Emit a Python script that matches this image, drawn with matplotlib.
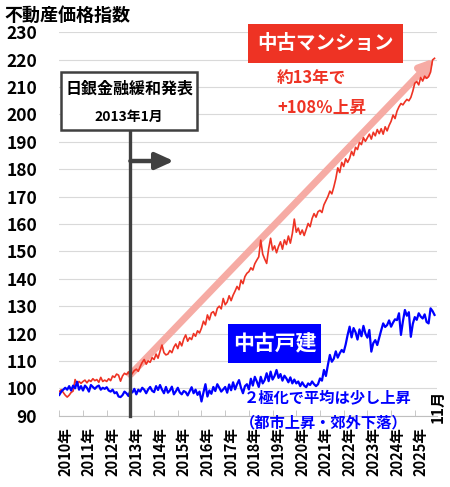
import numpy as np
import matplotlib.pyplot as plt
from matplotlib.patches import Rectangle

plt.rcParams['font.family'] = ['Noto Sans CJK JP', 'DejaVu Sans']

# ---------------- データ (2010年1月～2025年11月, 月次) ----------------
mansion = [
    98.8, 99.5, 98.5, 97.5, 96.8, 97.5, 98.5, 99.0, 103.2, 101.5, 102.5, 101.8,      # 2010
    102.5, 103.0, 102.0, 103.0, 102.5, 103.5, 102.8, 103.2, 102.2, 104.0, 102.5, 103.0,  # 2011
    102.5, 103.5, 102.8, 104.5, 104.0, 105.2, 104.8, 102.6, 104.5, 105.5, 105.0, 106.0,  # 2012
    104.5, 105.5, 106.5, 107.0, 106.2, 108.0, 109.5, 110.5, 108.8, 110.0, 109.5, 111.2,  # 2013
    110.5, 112.5, 111.0, 113.5, 115.8, 113.0, 112.2, 112.5, 113.8, 113.0, 115.0, 116.2,  # 2014
    114.5, 117.0, 115.5, 118.0, 119.5, 117.2, 118.5, 117.8, 120.0, 119.0, 121.0, 120.2,  # 2015
    122.0, 124.5, 123.2, 126.8, 125.0, 127.5, 128.0, 126.5, 129.2, 130.0, 129.0, 132.8,  # 2016
    130.5, 131.5, 133.8, 132.0, 134.0, 135.5, 137.2, 136.0, 139.5, 138.2, 140.8, 142.0,  # 2017
    142.6, 144.0, 143.2, 145.5, 146.8, 148.0, 154.1, 149.0, 147.2, 145.6, 151.0, 154.8,  # 2018
    150.5, 152.0, 149.5, 151.8, 153.5, 150.8, 154.2, 152.5, 155.6, 153.0, 156.5, 161.8,  # 2019
    157.0, 158.5, 156.2, 157.8, 155.8, 158.0, 160.2, 159.0, 162.0, 163.8, 162.5, 164.5,  # 2020
    165.0, 164.2, 167.0, 168.5, 170.0, 172.0, 171.0, 173.5, 176.5, 180.5, 178.8, 182.5,  # 2021
    181.0, 183.8, 182.5, 184.0, 186.5, 185.0, 188.0, 187.2, 189.8, 189.0, 191.5, 190.2,  # 2022
    191.5, 192.8, 191.0, 193.5, 192.2, 194.5, 193.0, 194.8, 192.8, 195.5, 194.0, 196.0,  # 2023
    197.5, 199.8, 198.5, 201.2, 202.8, 204.0, 203.5, 204.6, 205.5, 205.0, 206.2, 208.5,  # 2024
    211.4, 212.0, 210.8, 213.5, 212.2, 214.0, 213.2, 213.8, 215.5, 219.9, 220.5,         # 2025
]
house = [
    97.6, 98.8, 99.5, 100.2, 99.5, 100.8, 99.2, 101.0, 100.0, 102.4, 99.5, 100.8,     # 2010
    99.2, 101.0, 100.2, 98.8, 101.2, 100.5, 99.8, 100.6, 101.0, 99.5, 100.2, 99.8,    # 2011
    100.4, 99.2, 98.8, 99.5, 98.2, 98.6, 97.0, 96.8, 97.5, 98.8, 98.2, 97.2,          # 2012
    99.2, 98.5, 99.8, 97.8, 99.5, 98.8, 100.2, 99.5, 98.2, 99.6, 100.5, 99.1,         # 2013
    98.6, 100.8, 99.4, 101.2, 99.5, 98.2, 100.5, 98.4, 99.2, 100.6, 97.8, 98.9,       # 2014
    100.2, 98.5, 97.8, 99.0, 98.6, 97.4, 98.9, 100.4, 98.2, 99.5, 97.6, 98.8,         # 2015
    95.2, 98.5, 101.5, 97.0, 99.2, 98.0, 100.5, 99.0, 101.5, 100.2, 98.8, 99.6,       # 2016
    100.5, 98.4, 101.4, 99.3, 102.2, 99.6, 101.5, 103.0, 100.2, 98.2, 100.8, 101.5,   # 2017
    99.6, 103.5, 101.0, 104.2, 102.5, 100.5, 104.2, 101.8, 103.0, 105.5, 102.6, 106.1,  # 2018
    103.2, 104.5, 106.7, 103.8, 105.2, 102.8, 104.6, 103.6, 102.2, 104.0, 101.8, 103.2,  # 2019
    101.8, 102.5, 100.8, 102.2, 101.0, 100.4, 101.8, 101.2, 102.5, 101.5, 100.8, 101.5,  # 2020
    103.6, 102.8, 106.7, 104.5, 108.5, 112.2, 109.7, 110.8, 113.5, 111.2, 112.8, 114.0,  # 2021
    113.2, 116.0, 119.5, 122.5, 118.6, 122.0, 120.5, 117.8, 121.5, 119.0, 122.8, 120.0,  # 2022
    118.5, 121.3, 113.4, 116.5, 117.6, 115.8, 118.5, 121.2, 123.7, 122.4, 123.1, 124.8,  # 2023
    122.5, 124.0, 125.2, 124.9, 127.4, 119.5, 124.5, 128.6, 126.5, 127.8, 118.8, 123.5,  # 2024
    126.0, 125.0, 127.4, 126.2, 125.5, 127.0, 124.2, 123.7, 129.2, 128.2, 126.8,         # 2025
]
years = list(range(2010, 2026))
year_labels = [str(y) + '年' for y in years]
yticks = list(range(90, 240, 10))
boj_month = 36  # 2013年1月

months = np.arange(len(mansion))

# ---------------- 図 ----------------
W, H = 450, 487
fig = plt.figure(figsize=(W / 100, H / 100), dpi=100)
ax = fig.add_axes([59.3 / W, 1 - 415.7 / H, 377.2 / W, 383.4 / H])


def px(x, y):  # ピクセル座標 -> figure座標
    return x / W, 1 - y / H


ax.set_xlim(0, 191)
ax.set_ylim(90, 230)
ax.set_yticks(yticks)
ax.yaxis.grid(True, color='#D9D9D9', lw=0.8)
ax.set_axisbelow(True)
for s in ['top', 'right', 'left']:
    ax.spines[s].set_visible(False)
ax.spines['bottom'].set_color('#BFBFBF')
ax.tick_params(axis='y', length=0, pad=16, labelsize=12.5)
for t in ax.get_yticklabels():
    t.set_fontweight('bold')

ax.set_xticks([i * 12 + 3 for i in range(len(years))])
ax.set_xticklabels(year_labels, rotation=90, fontsize=10.5, fontweight='bold')
ax.set_xticks([i * 12 for i in range(len(years))], minor=True)
ax.tick_params(axis='x', which='major', length=0, pad=8)
ax.tick_params(axis='x', which='minor', direction='in', length=4, color='#BFBFBF')

# 上昇矢印 (ピンク)
ax.annotate('', xy=(months[-1], mansion[-1]), xytext=(boj_month, mansion[boj_month] + 0.5),
            arrowprops=dict(arrowstyle='-|>,head_length=0.8,head_width=0.4', lw=5,
                            color='#F6ABA4', shrinkA=0, shrinkB=0), zorder=2)

ax.plot(months, mansion, color='#EE3324', lw=1.2, zorder=3)
ax.plot(months, house, color='#0000FF', lw=1.6, zorder=3)

# 日銀金融緩和の縦線と矢印
ax.plot([boj_month, boj_month], [90, 194.3], color='#404040', lw=2.4, zorder=4, clip_on=False)
ax.annotate('', xy=(58, 183), xytext=(boj_month, 183),
            arrowprops=dict(arrowstyle='-|>,head_length=1.1,head_width=0.5', lw=3.2,
                            color='#404040', shrinkA=0, shrinkB=0), zorder=4)

# 注記ボックス
fig.patches.append(Rectangle(px(61, 130), 136 / W, 58 / H, transform=fig.transFigure,
                             facecolor='white', edgecolor='#404040', lw=1.8, zorder=5))
fig.text(*px(129, 89), '日銀金融緩和発表', ha='center', va='center', fontsize=11.5,
         fontweight='bold', zorder=6)
fig.text(*px(129, 117), '2013年1月', ha='center', va='center', fontsize=10,
         fontweight='bold', zorder=6)

fig.patches.append(Rectangle(px(248.3, 62.7), 155 / W, 38.7 / H, transform=fig.transFigure,
                             facecolor='#EE3324', edgecolor='none', zorder=5))
fig.text(*px(325.8, 43.5), '中古マンション', ha='center', va='center', fontsize=14,
         fontweight='bold', color='white', zorder=6)
fig.text(*px(277, 78.5), '約13年で', ha='left', va='center', fontsize=12,
         fontweight='bold', color='#EE3324')
fig.text(*px(277, 108), '+108％上昇', ha='left', va='center', fontsize=12,
         fontweight='bold', color='#EE3324')

fig.patches.append(Rectangle(px(228, 362.7), 93 / W, 38.7 / H, transform=fig.transFigure,
                             facecolor='#0000FF', edgecolor='none', zorder=5))
fig.text(*px(274.5, 343.5), '中古戸建', ha='center', va='center', fontsize=15,
         fontweight='bold', color='white', zorder=6)
fig.text(*px(327.5, 397), '２極化で平均は少し上昇', ha='center', va='center', fontsize=11,
         fontweight='bold', color='#0000FF')
fig.text(*px(324, 422), '（都市上昇・郊外下落）', ha='center', va='center', fontsize=11,
         fontweight='bold', color='#0000FF')

fig.text(*px(438, 406), '11月', ha='center', va='center', rotation=90, fontsize=11,
         fontweight='bold')
fig.text(*px(4, 15), '不動産価格指数', ha='left', va='center', fontsize=13, fontweight='bold')

fig.savefig('out.png', dpi=100)
